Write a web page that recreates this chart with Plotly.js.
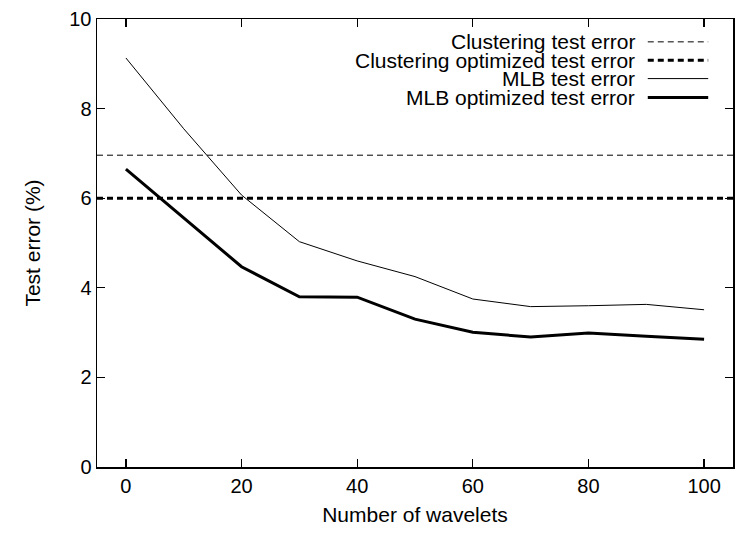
<!DOCTYPE html>
<html>
<head>
<meta charset="utf-8">
<script src="https://cdn.plot.ly/plotly-3.0.1.min.js"></script>
<style>html,body{margin:0;padding:0;background:#fff;}#chart{width:735px;height:534px;}</style>
</head>
<body>
<div id="chart"></div>
<script>
const wavelets = [0, 10, 20, 30, 40, 50, 60, 70, 80, 90, 100];
const mlbTest = [9.13, 7.55, 6.07, 5.03, 4.60, 4.25, 3.75, 3.58, 3.60, 3.63, 3.51];
const mlbOptTest = [6.65, 5.55, 4.47, 3.80, 3.79, 3.30, 3.01, 2.90, 2.99, 2.92, 2.85];
const clusteringTest = 6.96;
const clusteringOptTest = 6.00;
const xRange = [-5, 105];
const xTicks = [0, 20, 40, 60, 80, 100];
const yTicks = [0, 2, 4, 6, 8, 10];
const seriesNames = ["Clustering test error", "Clustering optimized test error", "MLB test error", "MLB optimized test error"];
const lineStyles = [
  {width: 1, dash: "6px,4px"},
  {width: 3, dash: "6px,4px"},
  {width: 1, dash: "solid"},
  {width: 3, dash: "solid"}
];

const FONT = "Liberation Sans, Arial, Helvetica, sans-serif";
const TICK_FS = 20;
const TEXT_FS = 21;

const traces = [
  {x: xRange, y: [clusteringTest, clusteringTest], name: seriesNames[0]},
  {x: xRange, y: [clusteringOptTest, clusteringOptTest], name: seriesNames[1]},
  {x: wavelets, y: mlbTest, name: seriesNames[2]},
  {x: wavelets, y: mlbOptTest, name: seriesNames[3]}
].map((t, i) => Object.assign(t, {
  type: "scatter", mode: "lines", showlegend: false,
  line: {color: "#000", width: lineStyles[i].width, dash: lineStyles[i].dash},
  hoverinfo: "skip"
}));

// legend (text right-aligned, sample on the right), in paper coordinates
const annotations = [];
const shapes = [];
const rowY = [0.949, 0.908, 0.867, 0.825];
seriesNames.forEach((n, i) => {
  annotations.push({
    xref: "paper", yref: "paper", x: 0.847, y: rowY[i],
    xanchor: "right", yanchor: "middle", showarrow: false,
    borderpad: 0,
    text: n, font: {family: FONT, size: TEXT_FS, color: "#000"}
  });
  shapes.push({
    type: "line", xref: "paper", yref: "paper",
    x0: 0.866, x1: 0.961, y0: rowY[i], y1: rowY[i],
    line: {color: "#000", width: lineStyles[i].width, dash: lineStyles[i].dash}
  });
});

const axisCommon = {
  showgrid: false, zeroline: false, showline: true, mirror: "ticks",
  linecolor: "#000", linewidth: 1.5, ticks: "inside", ticklen: 8,
  tickwidth: 1.2, tickcolor: "#000",
  tickfont: {family: FONT, size: TICK_FS, color: "#000"}
};

const layout = {
  width: 735, height: 534,
  margin: {l: 97, r: 2, t: 19, b: 67},
  paper_bgcolor: "#fff", plot_bgcolor: "#fff",
  showlegend: false,
  xaxis: Object.assign({}, axisCommon, {
    range: xRange, tickvals: xTicks,
    title: {text: "Number of wavelets", font: {family: FONT, size: TEXT_FS, color: "#000"}, standoff: 12}
  }),
  yaxis: Object.assign({}, axisCommon, {
    range: [0, 10], tickvals: yTicks,
    title: {text: "Test error (%)", font: {family: FONT, size: TEXT_FS, color: "#000"}, standoff: 23}
  }),
  annotations: annotations,
  shapes: shapes
};

Plotly.newPlot("chart", traces, layout, {staticPlot: true, displayModeBar: false});
</script>
</body>
</html>
